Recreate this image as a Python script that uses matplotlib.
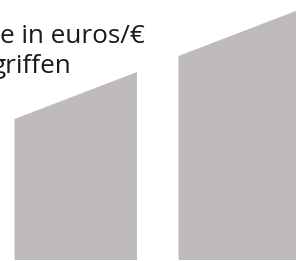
import matplotlib
matplotlib.use("Agg")
import matplotlib.pyplot as plt
from matplotlib.patches import Polygon

# Data
categories = ["A", "B"]
start_values = [141, 204]   # height at left edge of each bar
end_values = [188, 251]     # height at right edge of each bar
title_lines = ["e in euros/€", "griffen"]

W, H, DPI = 296, 261, 100
fig = plt.figure(figsize=(W / DPI, H / DPI), dpi=DPI)
ax = fig.add_axes([0, 0, 1, 1])
ax.set_axis_off()

bar_w = 0.747
px_per_unit = 164.0
x0_px = 75.75
ax.set_xlim(-x0_px / px_per_unit, (W - x0_px) / px_per_unit)
ax.set_ylim(-1, 260)

color = "#c0bbbb"
for i, (s, e) in enumerate(zip(start_values, end_values)):
    xl, xr = i - bar_w / 2, i + bar_w / 2
    poly = Polygon([(xl, 0), (xl, s), (xr, e), (xr, 0)], closed=True,
                   facecolor=color, edgecolor="none")
    ax.add_patch(poly)

fs = 18.8
fig.text(0 / W, 1 - 43.3 / H, title_lines[0], fontsize=fs, family="Open Sans",
         color="#1a1a1a", ha="left", va="baseline")
fig.text(-8 / W, 1 - 73 / H, title_lines[1], fontsize=fs, family="Open Sans",
         color="#1a1a1a", ha="left", va="baseline")

fig.savefig("out.png", dpi=DPI)
